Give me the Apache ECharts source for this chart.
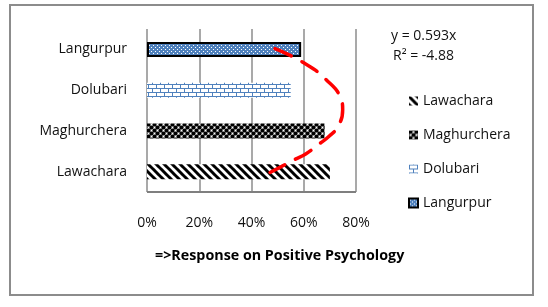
<!DOCTYPE html>
<html>
<head>
<meta charset="utf-8">
<script src="https://cdn.jsdelivr.net/npm/echarts@6/dist/echarts.min.js"></script>
<style>
  html, body { margin: 0; padding: 0; background: #fff; }
  #chart { width: 548px; height: 307px; }
</style>
</head>
<body>
<div id="chart"></div>
<script>
// categories bottom to top, as echarts draws them
var places = ['Lawachara', 'Maghurchera', 'Dolubari', 'Langurpur'];
var responses = [70, 68, 55, 59];          // percent
var tickValues = [0, 20, 40, 60, 80];

// trend line (x in %, y in category index)
var trendX = [49, 60, 68.5, 74.3, 74.9, 73.1, 69.7, 65.5, 60.9, 56.3, 51.6, 47.1];
var trendY = [3.02, 2.67, 2.26, 1.77, 1.52, 1.11, 0.87, 0.66, 0.44, 0.29, 0.13, -0.02];

var equation = 'y = 0.593x';
var rSquared = 'R² = -4.88';
var axisTitle = '=>Response on Positive Psychology';

var blue = '#4f81bd';

function tile(w, h, draw) {
    var c = document.createElement('canvas');
    c.width = w; c.height = h;
    var ctx = c.getContext('2d');
    draw(ctx);
    return {image: c, repeat: 'repeat'};
}

// fill patterns, one per place
var patterns = [
    // diagonal stripes
    tile(8, 8, function (ctx) {
        ctx.fillStyle = '#fff'; ctx.fillRect(0, 0, 8, 8);
        ctx.strokeStyle = '#000'; ctx.lineWidth = 3;
        for (var k = -1; k <= 1; k++) {
            ctx.beginPath();
            ctx.moveTo(k * 8 - 1, -1);
            ctx.lineTo(k * 8 + 9, 9);
            ctx.stroke();
        }
    }),
    // black spheres
    tile(6, 6, function (ctx) {
        ctx.fillStyle = '#fff'; ctx.fillRect(0, 0, 6, 6);
        ctx.fillStyle = '#000';
        [[1.5, 1.5], [4.5, 4.5], [-1.5, 4.5], [7.5, 1.5], [4.5, -1.5], [1.5, 7.5]].forEach(function (p) {
            ctx.beginPath(); ctx.arc(p[0], p[1], 2.1, 0, Math.PI * 2); ctx.fill();
        });
    }),
    // bricks
    tile(8, 8, function (ctx) {
        ctx.fillStyle = '#fff'; ctx.fillRect(0, 0, 8, 8);
        ctx.fillStyle = blue;
        ctx.fillRect(0, 0, 8, 1);
        ctx.fillRect(0, 4, 8, 1);
        ctx.fillRect(0, 0, 1, 4);
        ctx.fillRect(4, 4, 1, 4);
    }),
    // fine dots
    tile(4, 4, function (ctx) {
        ctx.fillStyle = blue; ctx.fillRect(0, 0, 4, 4);
        ctx.fillStyle = '#fff';
        ctx.fillRect(1, 1, 1, 1);
        ctx.fillRect(3, 3, 1, 1);
    })
];

var font = '"Open Sans", sans-serif';

var barSeries = places.map(function (name, i) {
    return {
        name: name,
        type: 'bar',
        stack: 'all',
        barWidth: 15,
        data: places.map(function (p, j) { return j === i ? responses[i] : '-'; }),
        itemStyle: {
            color: patterns[i],
            borderColor: i === 3 ? '#000' : 'transparent',
            borderWidth: i === 3 ? 2 : 0
        }
    };
});

var trendData = trendX.map(function (x, i) { return [x, trendY[i]]; });

var option = {
    animation: false,
    grid: {left: 147, right: 192, top: 29, bottom: 115},
    legend: {
        data: places,
        orient: 'vertical',
        left: 403,
        top: 89,
        itemWidth: 9,
        itemHeight: 9,
        itemGap: 20,
        icon: 'rect',
        textStyle: {fontFamily: font, fontSize: 14, color: '#111'}
    },
    xAxis: {
        type: 'value',
        min: 0,
        max: 80,
        interval: 20,
        axisLine: {show: false},
        axisTick: {show: false},
        splitLine: {lineStyle: {color: '#8c8c8c', width: 1.5}},
        axisLabel: {
            margin: 24,
            fontFamily: font, fontSize: 14, color: '#111',
            formatter: function (v) { return tickValues.indexOf(v) >= 0 ? v + '%' : ''; }
        }
    },
    yAxis: [{
        type: 'category',
        data: places,
        axisLine: {show: false},
        axisTick: {show: false},
        axisLabel: {margin: 20, fontFamily: font, fontSize: 14, color: '#111'}
    }, {
        type: 'value',
        min: -0.5,
        max: 3.5,
        show: false
    }],
    graphic: [
        {type: 'rect', shape: {x: 10, y: 5, width: 523, height: 290},
            style: {fill: 'none', stroke: '#8c8c8c', lineWidth: 2}},
        {type: 'text', left: 391, top: 29,
            style: {text: equation, font: '14px ' + font, fill: '#111'}},
        {type: 'text', left: 393, top: 49,
            style: {text: rSquared, font: '14px ' + font, fill: '#111'}},
        {type: 'text', left: 155, top: 249,
            style: {text: axisTitle, font: 'bold 14.3px ' + font, fill: '#000'}}
    ],
    series: barSeries.concat([{
        name: 'trend',
        type: 'line',
        yAxisIndex: 1,
        smooth: true,
        clip: false,
        symbol: 'none',
        z: 5,
        data: trendData,
        lineStyle: {color: '#ff0000', width: 3.5, type: [18, 12], cap: 'round'},
        // bottom edge of the plot
        markLine: {
            silent: true,
            symbol: 'none',
            label: {show: false},
            lineStyle: {color: '#7f7f7f', width: 2, type: 'solid'},
            data: [{yAxis: -0.5}]
        }
    }])
};

var myChart = echarts.init(document.getElementById('chart'));
myChart.setOption(option);
</script>
</body>
</html>
